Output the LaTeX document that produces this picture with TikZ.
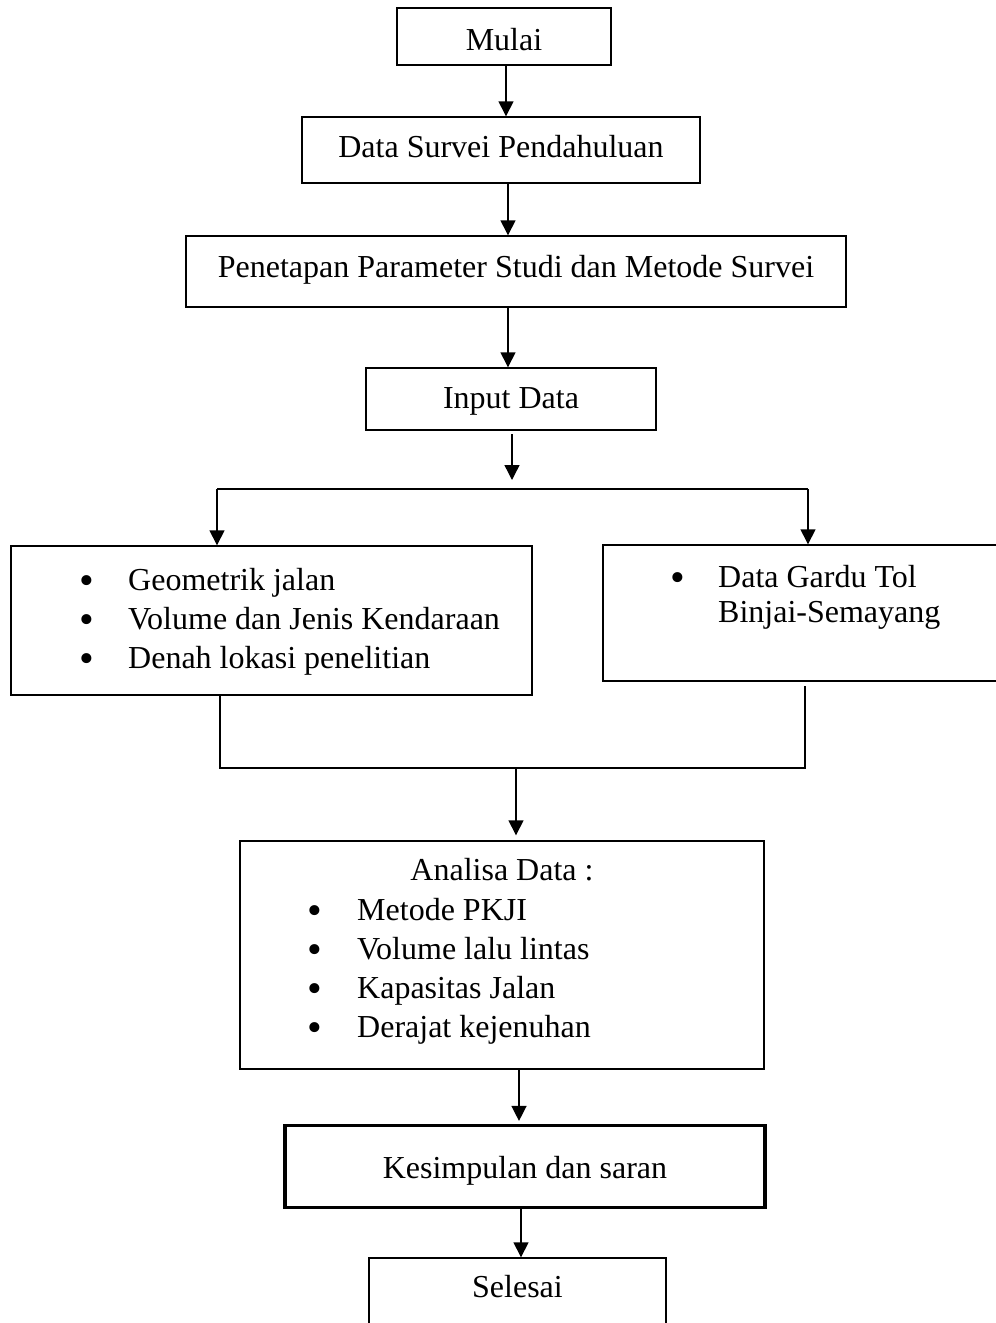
\documentclass[tikz,border=0pt]{standalone}
\usepackage{fontspec}
\setmainfont{Liberation Serif}
\usetikzlibrary{arrows.meta,calc}
\begin{document}
\begin{tikzpicture}[x=1pt,y=-1pt,
  box/.style={draw,line width=1.4pt,inner sep=0pt,text depth=0pt,font=\fontsize{32}{38}\selectfont},
  thickbox/.style={draw,line width=3.2pt,inner sep=0pt,text depth=0pt,font=\fontsize{32}{38}\selectfont},
  txt/.style={inner sep=0pt,anchor=base west,font=\fontsize{32}{38}\selectfont},
  ctxt/.style={inner sep=0pt,anchor=base,font=\fontsize{32}{38}\selectfont},
  bul/.style={inner sep=0pt,anchor=center,font=\fontsize{42}{48}\selectfont},
  line/.style={line width=1.4pt},
  arr/.style={line width=1.4pt,-{Triangle[length=15pt,width=15pt]}}]
\path[use as bounding box,clip] (0,0) rectangle (996,1323);
% boxes
\node[box,minimum width=214pt,minimum height=57pt,text height=27pt] (mulai) at (504,36.5) {Mulai};
\node[box,minimum width=398pt,minimum height=66pt,text height=14pt] (survei) at (501,150) {Data Survei Pendahuluan};
\node[box,minimum width=660pt,minimum height=71pt,text height=11pt] (param) at (516,271.5) {Penetapan Parameter Studi dan Metode Survei};
\node[box,minimum width=290pt,minimum height=62pt,text height=18pt] (input) at (511,399) {Input Data};
\node[box,minimum width=521pt,minimum height=149pt] (left) at (271.5,620.5) {};
\node[box,minimum width=407pt,minimum height=136pt] (right) at (806.5,613) {};
\node[box,minimum width=524pt,minimum height=228pt] (analisa) at (502,955) {};
\node[thickbox,minimum width=480pt,minimum height=82pt,text height=23pt] (simpul) at (525,1166.5) {Kesimpulan dan saran};
\node[box,minimum width=297pt,minimum height=90pt] (selesai) at (517.5,1303) {};
\node[ctxt] (selesaiT) at (517.5,1297) {Selesai};
% left box text
\node[bul] (lb1) at (87,585) {•};
\node[txt] (lt1) at (128,590) {Geometrik jalan};
\node[bul] (lb2) at (87,624) {•};
\node[txt] (lt2) at (128,629) {Volume dan Jenis Kendaraan};
\node[bul] (lb3) at (87,663) {•};
\node[txt] (lt3) at (128,668) {Denah lokasi penelitian};
% right box text
\node[bul] (rb1) at (678,582) {•};
\node[txt] (rt1) at (718,587) {Data Gardu Tol};
\node[txt] (rt2) at (718,622) {Binjai-Semayang};
% analisa text
\node[ctxt] (at0) at (502,880) {Analisa Data :};
\node[bul] (ab1) at (315,915) {•};
\node[txt] (at1) at (357,920) {Metode PKJI};
\node[bul] (ab2) at (315,954) {•};
\node[txt] (at2) at (357,959) {Volume lalu lintas};
\node[bul] (ab3) at (315,993) {•};
\node[txt] (at3) at (357,998) {Kapasitas Jalan};
\node[bul] (ab4) at (315,1032) {•};
\node[txt] (at4) at (357,1037) {Derajat kejenuhan};
% connectors
\coordinate (c1) at (506,0);
\draw[arr] (c1 |- mulai.south) -- (c1 |- survei.north);
\coordinate (c2) at (508,0);
\draw[arr] (c2 |- survei.south) -- (c2 |- param.north);
\draw[arr] (c2 |- param.south) -- (c2 |- input.north);
\coordinate (sIn) at (512,434);
\coordinate (sMid) at (512,480);
\coordinate (sl) at (217,489);
\coordinate (sr) at (808,489);
\draw[arr] (sIn) -- (sMid);
\draw[line] (sl) -- (sr);
\draw[arr] (sl) -- (sl |- left.north);
\draw[arr] (sr) -- (sr |- right.north);
\coordinate (ml) at (220,768);
\coordinate (mr) at (805,768);
\coordinate (mrTop) at (805,686);
\coordinate (mm) at (516,768);
\draw[line] (ml |- left.south) -- (ml) -- (mr) -- (mrTop);
\draw[arr,shorten >=5pt] (mm) -- (mm |- analisa.north);
\coordinate (c3) at (519,0);
\draw[arr,shorten >=3pt] (c3 |- analisa.south) -- (c3 |- simpul.north);
\coordinate (c4) at (521,0);
\draw[arr] (c4 |- simpul.south) -- (c4 |- selesai.north);
\end{tikzpicture}
\end{document}
